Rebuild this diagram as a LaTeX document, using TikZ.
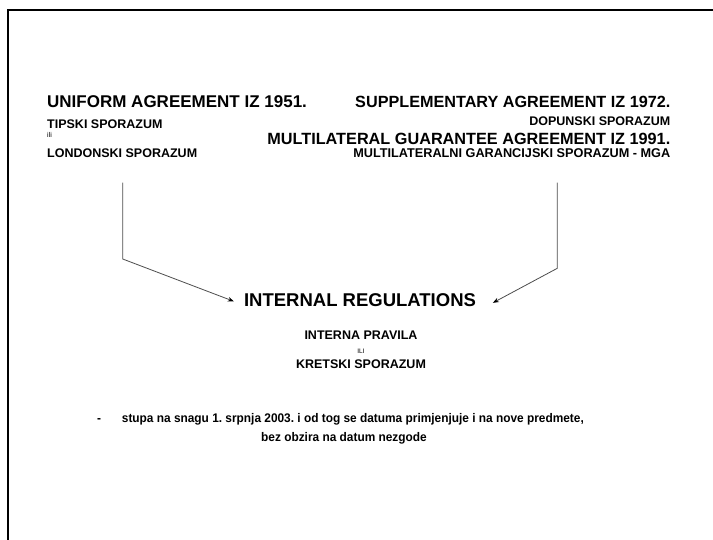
\documentclass[tikz,border=0pt]{standalone}
\usepackage{fontspec}
\setmainfont{Liberation Sans}
\newfontfamily\narrowsans[FakeStretch=0.95]{Liberation Sans}
\usetikzlibrary{arrows.meta}
\begin{document}
\frenchspacing
\begin{tikzpicture}[x=1pt,y=-1pt,
  txt/.style={inner sep=0pt,font=\bfseries},
  big/.style={txt,font=\fontsize{16.6}{19}\selectfont\bfseries},
  mid/.style={txt,font=\fontsize{12.5}{15}\selectfont\bfseries},
  low/.style={txt,font=\narrowsans\fontsize{12.5}{15}\selectfont\bfseries},
  tiny/.style={inner sep=0pt,font=\fontsize{7}{8}\selectfont},
  conn/.style={draw=black!70,line width=0.8pt,-{Stealth[length=6pt,width=4.5pt,black]}},
  frame/.style={line width=1.6pt,black}]
\useasboundingbox (0,0) rectangle (713,540);
\draw[frame] (8,540) -- (8,10) -- (713,10);
% left block
\node[big,font=\fontsize{17}{19}\selectfont\bfseries,anchor=base west] (uni) at (47,108) {UNIFORM AGREEMENT IZ 1951.};
\node[mid,anchor=base west] (tip) at (47,128.7) {TIPSKI SPORAZUM};
\node[tiny,anchor=base west] (ili) at (47,137.5) {ili};
\node[mid,anchor=base west] (lon) at (47,157.3) {LONDONSKI SPORAZUM};
% right block
\node[big,font=\fontsize{16.2}{19}\selectfont\bfseries,anchor=base east] (sup) at (670.5,108) {SUPPLEMENTARY AGREEMENT IZ 1972.};
\node[mid,anchor=base east] (dop) at (670.5,125.7) {DOPUNSKI SPORAZUM};
\node[big,font=\fontsize{16.25}{19}\selectfont\bfseries,anchor=base east] (mul) at (670.5,144.6) {MULTILATERAL GUARANTEE AGREEMENT IZ 1991.};
\node[mid,font=\fontsize{12.7}{15}\selectfont\bfseries,anchor=base east] (mga) at (670.5,157.8) {MULTILATERALNI GARANCIJSKI SPORAZUM - MGA};
% centre
\node[txt,font=\fontsize{18.5}{22}\selectfont\bfseries,anchor=base] (reg) at (360,306.7) {INTERNAL REGULATIONS};
\node[mid,anchor=base] (int) at (361,339.3) {INTERNA PRAVILA};
\node[tiny,font=\fontsize{6.5}{8}\selectfont,anchor=base] (ili2) at (361,353.3) {ILI};
\node[mid,anchor=base] (kre) at (361,369) {KRETSKI SPORAZUM};
% bottom text
\node[low,anchor=base west] (dash) at (97,422.7) {-};
\node[low,anchor=base west] (stu) at (121.7,422.7) {stupa na snagu 1. srpnja 2003. i od tog se datuma primjenjuje i na nove predmete,};
\node[low,anchor=base] (bez) at (344,441) {bez obzira na datum nezgode};
% connectors
\coordinate (l1) at (122.7,182.7);
\coordinate (l2) at (122.7,259);
\coordinate (r1) at (557.3,182.7);
\coordinate (r2) at (557.3,268.3);
\draw[conn] (l1) -- (l2) -- ([xshift=-10pt,yshift=-1pt]reg.west);
\draw[conn] (r1) -- (r2) -- ([xshift=16.7pt,yshift=-2.5pt]reg.east);
\end{tikzpicture}
\end{document}
